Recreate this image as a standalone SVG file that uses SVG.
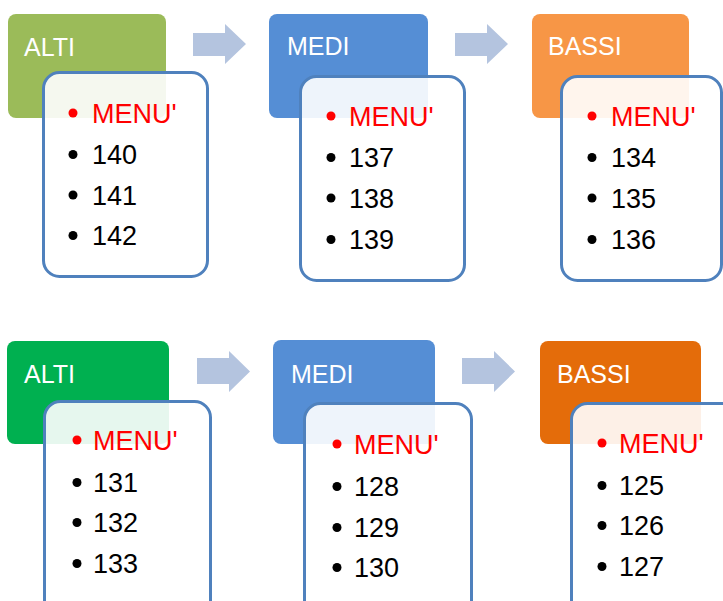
<svg xmlns="http://www.w3.org/2000/svg" width="723" height="601" viewBox="0 0 723 601">
<style>
.title{font-family:"Liberation Sans",Arial,sans-serif;font-size:25px;fill:#fff}
.item{font-family:"Liberation Sans",Arial,sans-serif;font-size:27px;fill:#000}
.menu{fill:#ff0000}
.card{fill:#fff;fill-opacity:0.9;stroke:#4f81bd;stroke-width:3}
.arrow{fill:#b4c4df}
.rb{fill:#ff0000}
.bb{fill:#000}
</style>
<rect width="723" height="601" fill="#fff"/>
<g id="connectors">
<path class="arrow" d="M193,33 H225 V24 L246,44 L225,64 V56 H193 Z"/>
<path class="arrow" d="M455,33 H487 V24 L508,44 L487,64 V56 H455 Z"/>
<path class="arrow" d="M197,358 H229 V351 L250,371.5 L229,392 V384 H197 Z"/>
<path class="arrow" d="M462,358 H494 V351 L515,371.5 L494,392 V384 H462 Z"/>
</g>
<g id="alti1">
<rect x="8" y="14" width="158" height="104" rx="8" fill="#9bbb59"/>
<text class="title" x="24" y="56">ALTI</text>
<rect class="card" x="43.5" y="72.5" width="164" height="204" rx="16"/>
<circle class="rb" cx="73" cy="113" r="4.5"/><text class="item menu" x="92" y="123">MENU'</text>
<circle class="bb" cx="73" cy="154.5" r="4.5"/><text class="item" x="92" y="164">140</text>
<circle class="bb" cx="73" cy="195" r="4.5"/><text class="item" x="92" y="204.5">141</text>
<circle class="bb" cx="73" cy="235.5" r="4.5"/><text class="item" x="92" y="245">142</text>
</g>
<g id="medi1">
<rect x="269" y="14" width="159" height="104" rx="8" fill="#558ed5"/>
<text class="title" x="287" y="55">MEDI</text>
<rect class="card" x="300.5" y="76.5" width="164" height="204" rx="16"/>
<circle class="rb" cx="331" cy="116" r="4.5"/><text class="item menu" x="349" y="125.5">MENU'</text>
<circle class="bb" cx="331" cy="157.5" r="4.5"/><text class="item" x="349" y="167">137</text>
<circle class="bb" cx="331" cy="198" r="4.5"/><text class="item" x="349" y="207.5">138</text>
<circle class="bb" cx="331" cy="239.5" r="4.5"/><text class="item" x="349" y="249">139</text>
</g>
<g id="bassi1">
<rect x="532" y="14" width="157" height="104" rx="8" fill="#f79646"/>
<text class="title" x="548" y="55">BASSI</text>
<rect class="card" x="561.5" y="76.5" width="160" height="204" rx="16"/>
<circle class="rb" cx="592" cy="116" r="4.5"/><text class="item menu" x="611" y="125.5">MENU'</text>
<circle class="bb" cx="592" cy="157.5" r="4.5"/><text class="item" x="611" y="167">134</text>
<circle class="bb" cx="592" cy="198" r="4.5"/><text class="item" x="611" y="207.5">135</text>
<circle class="bb" cx="592" cy="239.5" r="4.5"/><text class="item" x="611" y="249">136</text>
</g>
<g id="alti2">
<rect x="7" y="341" width="162" height="103" rx="8" fill="#00b050"/>
<text class="title" x="24" y="383">ALTI</text>
<rect class="card" x="44.5" y="401.5" width="166" height="220" rx="16"/>
<circle class="rb" cx="77" cy="440" r="4.5"/><text class="item menu" x="93" y="450">MENU'</text>
<circle class="bb" cx="77" cy="482.5" r="4.5"/><text class="item" x="93" y="492">131</text>
<circle class="bb" cx="77" cy="522.5" r="4.5"/><text class="item" x="93" y="532">132</text>
<circle class="bb" cx="77" cy="563.5" r="4.5"/><text class="item" x="93" y="573">133</text>
</g>
<g id="medi2">
<rect x="273" y="340" width="162" height="104" rx="8" fill="#558ed5"/>
<text class="title" x="291" y="383">MEDI</text>
<rect class="card" x="304.5" y="403.5" width="167" height="220" rx="16"/>
<circle class="rb" cx="337" cy="444" r="4.5"/><text class="item menu" x="354" y="454">MENU'</text>
<circle class="bb" cx="337" cy="486.5" r="4.5"/><text class="item" x="354" y="496">128</text>
<circle class="bb" cx="337" cy="527.5" r="4.5"/><text class="item" x="354" y="537">129</text>
<circle class="bb" cx="337" cy="567.5" r="4.5"/><text class="item" x="354" y="577">130</text>
</g>
<g id="bassi2">
<rect x="540" y="341" width="161" height="103" rx="8" fill="#e46c0a"/>
<text class="title" x="557" y="383">BASSI</text>
<rect class="card" x="571.5" y="403.5" width="170" height="220" rx="16"/>
<circle class="rb" cx="602" cy="443" r="4.5"/><text class="item menu" x="619" y="453">MENU'</text>
<circle class="bb" cx="602" cy="485.5" r="4.5"/><text class="item" x="619" y="495">125</text>
<circle class="bb" cx="602" cy="525.5" r="4.5"/><text class="item" x="619" y="535">126</text>
<circle class="bb" cx="602" cy="566.5" r="4.5"/><text class="item" x="619" y="576">127</text>
</g>
</svg>
